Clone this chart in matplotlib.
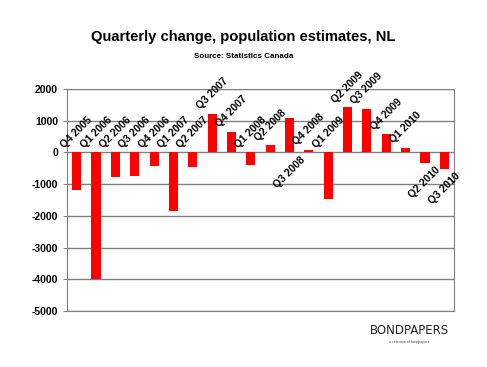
import matplotlib
matplotlib.use('Agg')
import matplotlib.pyplot as plt

plt.rcParams['font.family'] = ['Liberation Sans', 'DejaVu Sans']
plt.rcParams['axes.unicode_minus'] = False

# 季度与人口变化估计值
quarters = ['Q4 2005', 'Q1 2006', 'Q2 2006', 'Q3 2006', 'Q4 2006',
            'Q1 2007', 'Q2 2007', 'Q3 2007', 'Q4 2007', 'Q1 2008',
            'Q2 2008', 'Q3 2008', 'Q4 2008', 'Q1 2009', 'Q2 2009',
            'Q3 2009', 'Q4 2009', 'Q1 2010', 'Q2 2010', 'Q3 2010']
change = [-1200, -4000, -780, -750, -430,
          -1850, -470, 1220, 640, -400,
          220, 1080, 80, -1480, 1420,
          1360, 570, 130, -320, -510]
yticks = [-5000, -4000, -3000, -2000, -1000, 0, 1000, 2000]
# 标签放在柱子上方还是下方
label_below = [False] * 11 + [True] + [False] * 6 + [True, True]

fig = plt.figure(figsize=(4.87, 3.67), dpi=100)
ax = fig.add_axes([0.1376, 0.1526, 0.7946, 0.605])

x = range(len(quarters))
ax.bar(x, change, width=0.47, color='#ff0000', zorder=3)

for i, (q, v, below) in enumerate(zip(quarters, change, label_below)):
    if below:
        y = min(v, 0)
        ax.annotate(q, (i, y), xytext=(0, -2), textcoords='offset points',
                    rotation=45, ha='center', va='top',
                    fontsize=7.5, fontweight='bold', zorder=4)
    else:
        y = max(v, 0)
        ax.annotate(q, (i, y), xytext=(0, 2), textcoords='offset points',
                    rotation=45, ha='center', va='bottom',
                    fontsize=7.5, fontweight='bold', zorder=4,
                    annotation_clip=False)

ax.set_xlim(-0.5, len(quarters) - 0.5)
ax.set_ylim(-5000, 2000)
ax.set_yticks(yticks)
ax.set_yticklabels([str(t) for t in yticks], fontsize=7.5, fontweight='bold')
ax.set_xticks([])
ax.tick_params(axis='y', length=3, color='#808080')
ax.grid(axis='y', color='#808080', linewidth=1, zorder=0)
for s in ax.spines.values():
    s.set_color('#808080')

fig.text(0.5, 0.898, 'Quarterly change, population estimates, NL',
         ha='center', va='center', fontsize=10.6, fontweight='bold')
fig.text(0.5, 0.845, 'Source: Statistics Canada',
         ha='center', va='center', fontsize=5.8, fontweight='bold')

# 右下角标志
fig.text(0.84, 0.1, 'BONDPAPERS', ha='center', va='center',
         fontsize=8.5, family='DejaVu Sans', color='#222222')
fig.text(0.84, 0.068, 'a selection of bondpapers', ha='center', va='center',
         fontsize=2.5, color='#444444')

fig.savefig('out.png', dpi=100)
